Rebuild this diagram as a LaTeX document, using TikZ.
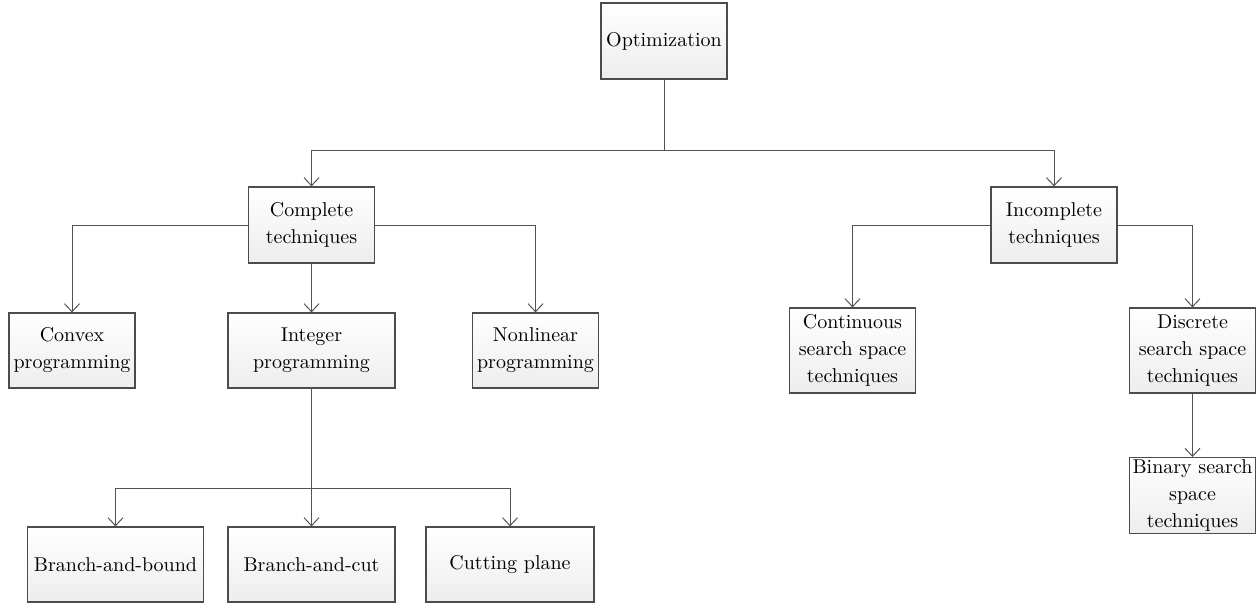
\documentclass[tikz,border=0pt]{standalone}
\usetikzlibrary{arrows.meta}
\begin{document}
\begin{tikzpicture}[x=0.5pt, y=-0.5pt, font=\fontsize{10}{13.5}\selectfont,
  box/.style={draw=gray!60!black, line width=0.6pt, top color=white, bottom color=gray!14,
    align=center, inner sep=1pt, minimum width=63pt, minimum height=37.5pt},
  link/.style={draw=gray!65!black, line width=0.5pt},
  arr/.style={link, -{Straight Barb[length=4pt, width=7.5pt]}}]
\useasboundingbox (0,0) rectangle (1260,605);
% top levels
\node[box, minimum height=38pt] (opt) at (664,41) {Optimization};
\node[box, minimum height=38pt] (comp) at (311.5,225) {Complete\\techniques};
\node[box, minimum height=38pt] (incomp) at (1054,225) {Incomplete\\techniques};
% complete techniques
\node[box] (convex) at (72,350.5) {Convex\\programming};
\node[box, minimum width=83.5pt] (integer) at (311.5,350.5) {Integer\\programming};
\node[box] (nonlin) at (535.5,350.5) {Nonlinear\\programming};
% incomplete techniques
\node[box, minimum height=42.5pt] (contin) at (852.5,350.5) {Continuous\\search space\\techniques};
\node[box, minimum height=42.5pt] (discr) at (1192.5,350.5) {Discrete\\search space\\techniques};
\node[box, minimum height=36.5pt] (binary) at (1192.5,495.5) {Binary search\\space\\techniques};
% integer programming methods
\foreach \name/\xc/\bw/\lbl in {bab/115.5/88/Branch-and-bound, bac/311.5/83.5/Branch-and-cut, cut/510/84/Cutting plane}
  \node[box, minimum width=\bw pt, minimum height=37.5pt] (\name) at (\xc,564.5) {\lbl};
% connectors
\coordinate (split) at (664,150);
\coordinate (isplit) at (311.5,488);
\draw[link] (opt) -- (split);
\draw[arr] (split) -| (comp.north);
\draw[arr] (split) -| (incomp.north);
\draw[arr] (comp.west) -| (convex.north);
\draw[arr] (comp) -- (integer);
\draw[arr] (comp.east) -| (nonlin.north);
\draw[link] (integer) -- (isplit);
\foreach \name in {bab, bac, cut}
  \draw[arr] (isplit) -| (\name.north);
\draw[arr] (incomp.west) -| (contin.north);
\draw[arr] (incomp.east) -| (discr.north);
\draw[arr] (discr) -- (binary);
\end{tikzpicture}
\end{document}
